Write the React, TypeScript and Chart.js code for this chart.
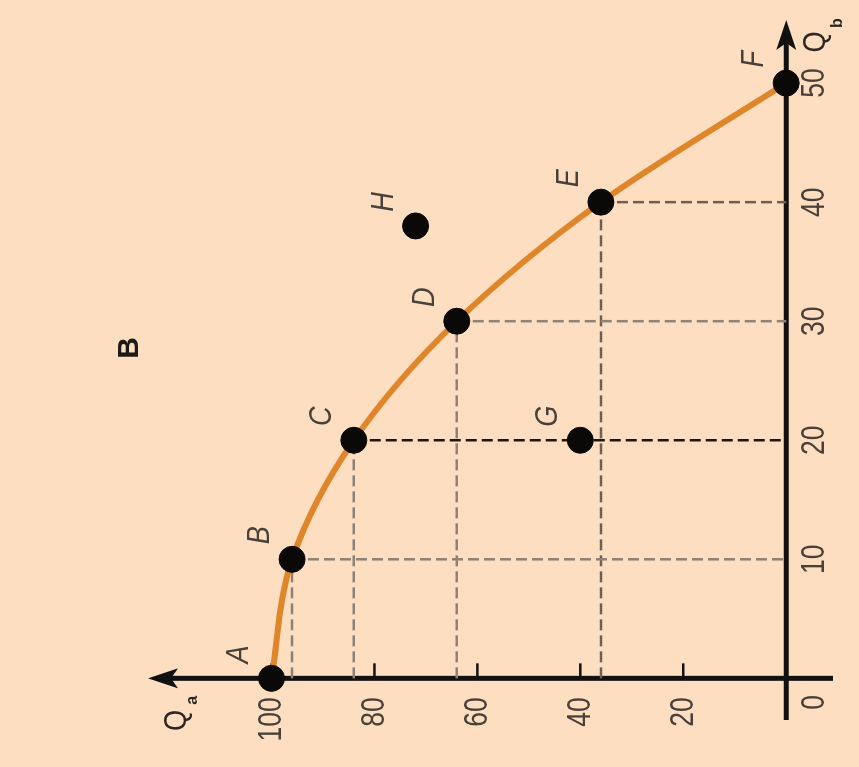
import React, { useEffect, useRef } from 'react';
import { Chart, registerables } from 'chart.js';

Chart.register(...registerables);

// ---- data ----
const pointNames = ['A', 'B', 'C', 'D', 'E', 'F', 'G', 'H'];
const pointQb = [0, 10, 20, 30, 40, 50, 20, 38];
const pointQa = [100, 96, 84, 64, 36, 0, 40, 72];
const frontierQb = [0, 10, 20, 30, 40, 50];
const frontierQa = [100, 96, 84, 64, 36, 0];
const guideQb = [10, 20, 30, 40];
const guideQa = [96, 84, 64, 36];
const qaTicks = [20, 40, 60, 80, 100];
const qbTicks = [10, 20, 30, 40, 50];
const qaName = 'Q';
const qaSub = 'a';
const qbName = 'Q';
const qbSub = 'b';
const panelTitle = 'B';

const BG = '#FDDEC1';
const AXIS = '#111111';
const TEXT = '#4a403a';

function drawText(
  ctx: CanvasRenderingContext2D,
  text: string,
  x: number,
  y: number,
  font: string,
  color: string,
  align: CanvasTextAlign,
  baseline: CanvasTextBaseline,
  scaleX = 1
) {
  ctx.save();
  ctx.translate(x, y);
  ctx.scale(scaleX, 1);
  ctx.font = font;
  ctx.fillStyle = color;
  ctx.textAlign = align;
  ctx.textBaseline = baseline;
  ctx.fillText(text, 0, 0);
  ctx.restore();
}

function drawArrow(ctx: CanvasRenderingContext2D, tx: number, ty: number, dx: number, dy: number) {
  const L = 30;
  const W = 10;
  const notch = 7;
  const px = -dy;
  const py = dx;
  ctx.beginPath();
  ctx.moveTo(tx, ty);
  ctx.lineTo(tx - dx * L + px * W, ty - dy * L + py * W);
  ctx.lineTo(tx - dx * (L - notch), ty - dy * (L - notch));
  ctx.lineTo(tx - dx * L - px * W, ty - dy * L - py * W);
  ctx.closePath();
  ctx.fillStyle = AXIS;
  ctx.fill();
}

const axesPlugin = {
  id: 'axesPlugin',
  beforeDraw(chart: any) {
    const ctx = chart.ctx as CanvasRenderingContext2D;
    ctx.save();
    ctx.fillStyle = BG;
    ctx.fillRect(0, 0, chart.width, chart.height);
    ctx.restore();
  },
  beforeDatasetsDraw(chart: any) {
    const ctx = chart.ctx as CanvasRenderingContext2D;
    const xs = chart.scales.x;
    const ys = chart.scales.y;
    const area = chart.chartArea;
    const x0 = xs.getPixelForValue(0);
    const y0 = ys.getPixelForValue(0);
    ctx.save();
    ctx.strokeStyle = AXIS;
    ctx.lineWidth = 5;
    ctx.lineCap = 'butt';
    // Qb axis (horizontal)
    ctx.beginPath();
    ctx.moveTo(area.left, y0);
    ctx.lineTo(area.right - 20, y0);
    ctx.stroke();
    // Qa axis (vertical)
    ctx.beginPath();
    ctx.moveTo(x0, area.bottom);
    ctx.lineTo(x0, area.top + 20);
    ctx.stroke();
    drawArrow(ctx, area.right, y0, 1, 0);
    drawArrow(ctx, x0, area.top, 0, -1);
    // tick marks (inside) on the Qa axis
    ctx.lineWidth = 2.5;
    qaTicks.forEach((v) => {
      const py = ys.getPixelForValue(v);
      ctx.beginPath();
      ctx.moveTo(x0, py);
      ctx.lineTo(x0 + 15, py);
      ctx.stroke();
    });
    ctx.restore();
  },
  afterDatasetsDraw(chart: any) {
    const ctx = chart.ctx as CanvasRenderingContext2D;
    const xs = chart.scales.x;
    const ys = chart.scales.y;
    const area = chart.chartArea;
    const x0 = xs.getPixelForValue(0);
    const y0 = ys.getPixelForValue(0);
    const tickFont = '34px "Liberation Sans", Arial, sans-serif';
    qaTicks.forEach((v) => {
      drawText(ctx, String(v), x0 - 19, ys.getPixelForValue(v), tickFont, TEXT, 'right', 'middle', 0.78);
    });
    qbTicks.forEach((v) => {
      drawText(ctx, String(v), xs.getPixelForValue(v), y0 + 28, tickFont, TEXT, 'center', 'middle', 0.78);
    });
    drawText(ctx, '0', x0 - 24, y0 + 28, tickFont, TEXT, 'center', 'middle', 0.78);
    // axis names
    const nameFont = '32px "Liberation Sans", Arial, sans-serif';
    const subFont = 'bold 16px "Liberation Sans", Arial, sans-serif';
    drawText(ctx, qaName, x0 - 42, area.top + 29, nameFont, '#2e2624', 'center', 'middle', 0.85);
    drawText(ctx, qaSub, x0 - 22, area.top + 45, subFont, '#2e2624', 'center', 'middle');
    drawText(ctx, qbName, area.right - 22, y0 + 30, nameFont, '#2e2624', 'center', 'middle', 0.85);
    drawText(ctx, qbSub, area.right - 3, y0 + 51, subFont, '#2e2624', 'center', 'middle');
    // point letters
    const letterFont = 'italic 32px "Liberation Sans", Arial, sans-serif';
    pointNames.forEach((n, i) => {
      const px = xs.getPixelForValue(pointQb[i]);
      const py = ys.getPixelForValue(pointQa[i]);
      drawText(ctx, n, px + 24, py - 32, letterFont, TEXT, 'center', 'middle', 0.85);
    });
    // panel title
    drawText(ctx, panelTitle, (area.left + area.right) / 2 + 22, 130, 'bold 30px "Liberation Sans", Arial, sans-serif', '#1e1a18', 'center', 'middle');
  },
};

export default function App() {
  const ref = useRef<HTMLCanvasElement | null>(null);

  useEffect(() => {
    if (!ref.current) return;
    const guideSets: any[] = [];
    guideQb.forEach((qb, i) => {
      const qa = guideQa[i];
      guideSets.push({
        type: 'line',
        data: [
          { x: 0, y: qa },
          { x: qb, y: qa },
        ],
        borderColor: i === 3 ? '#6e6054' : '#8e8276',
        borderWidth: 2.5,
        borderDash: [11, 5],
        pointRadius: 0,
        order: 3,
      });
      guideSets.push({
        type: 'line',
        data: [
          { x: qb, y: qa },
          { x: qb, y: 0 },
        ],
        borderColor: i === 1 ? '#1a1614' : i === 3 ? '#6e6054' : '#8e8276',
        borderWidth: 2.5,
        borderDash: [11, 5],
        pointRadius: 0,
        order: 3,
      });
    });

    const chart = new Chart(ref.current, {
      type: 'scatter',
      data: {
        datasets: [
          {
            type: 'scatter',
            data: pointQb.map((x, i) => ({ x, y: pointQa[i] })),
            backgroundColor: '#0b0808',
            borderColor: '#0b0808',
            pointRadius: 13,
            order: 0,
          } as any,
          {
            type: 'line',
            data: frontierQb.map((x, i) => ({ x, y: frontierQa[i] })),
            borderColor: '#E0862A',
            borderWidth: 6,
            pointRadius: 0,
            cubicInterpolationMode: 'monotone',
            fill: false,
            order: 1,
          } as any,
          ...guideSets,
        ],
      },
      options: {
        responsive: false,
        animation: false,
        devicePixelRatio: 1,
        events: [],
        layout: { padding: { left: 47, right: 20, top: 148, bottom: 26 } },
        plugins: {
          legend: { display: false },
          tooltip: { enabled: false },
          title: { display: false },
        },
        scales: {
          x: { type: 'linear', min: -3.5, max: 55.3, display: false },
          y: { type: 'linear', min: -9.1, max: 124, display: false },
        },
      },
      plugins: [axesPlugin],
    } as any);
    return () => chart.destroy();
  }, []);

  return (
    <div
      style={{
        position: 'fixed',
        left: 0,
        top: 0,
        width: 767,
        height: 859,
        background: BG,
        transformOrigin: '0 0',
        transform: 'translateY(767px) rotate(-90deg)',
      }}
    >
      <canvas ref={ref} width={767} height={859} style={{ width: 767, height: 859, display: 'block' }} />
    </div>
  );
}
